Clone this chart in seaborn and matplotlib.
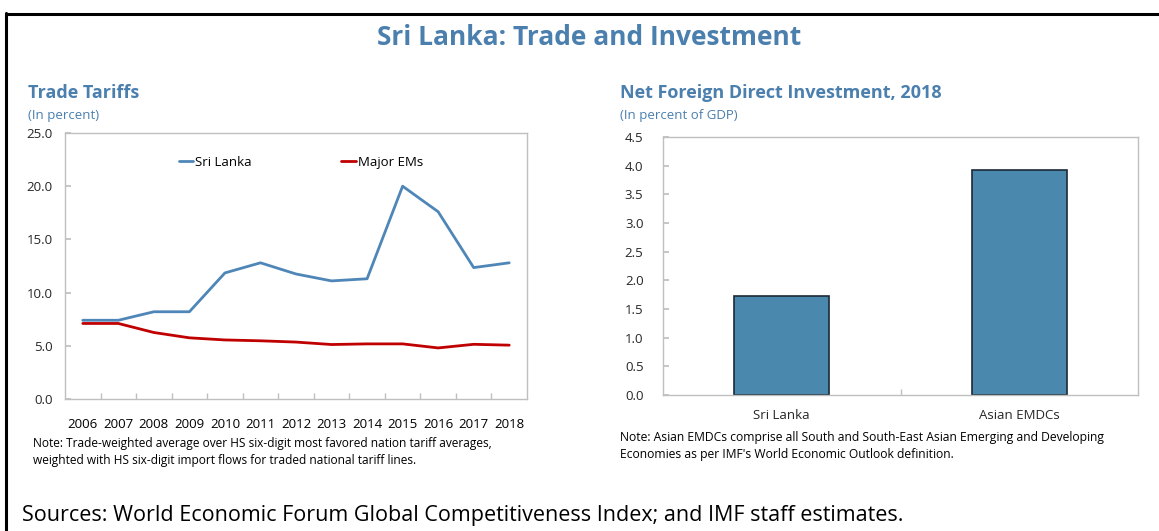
import matplotlib
matplotlib.use("Agg")
import matplotlib.pyplot as plt
import matplotlib.lines as mlines
from matplotlib.ticker import FixedLocator, MultipleLocator, FormatStrFormatter
import seaborn as sns
import pandas as pd

years = ["2006", "2007", "2008", "2009", "2010", "2011", "2012",
         "2013", "2014", "2015", "2016", "2017", "2018"]
sri_lanka = [7.4, 7.4, 8.2, 8.2, 11.85, 12.8, 11.75, 11.1, 11.3, 20.0, 17.6, 12.35, 12.8]
major_ems = [7.1, 7.1, 6.25, 5.75, 5.55, 5.47, 5.35, 5.12, 5.18, 5.18, 4.8, 5.14, 5.06]

fdi_categories = ["Sri Lanka", "Asian EMDCs"]
fdi_values = [1.73, 3.93]

TITLE_BLUE = "#4a7fae"
LINE_BLUE = "#4f86b8"
RED = "#c00000"
BAR = "#4a89ad"
SPINE = "#bfbfbf"
FONT = ["Open Sans", "DejaVu Sans"]

sns.set_theme(style="white")
plt.rcParams["font.family"] = FONT

fig = plt.figure(figsize=(11.59, 5.31), dpi=100)

# Frame (top and left border)
fig.add_artist(mlines.Line2D([6 / 1159, 6 / 1159], [0, 1 - 13 / 531], color="black", lw=2.2,
                             transform=fig.transFigure))
fig.add_artist(mlines.Line2D([6 / 1159, 1], [1 - 14 / 531, 1 - 14 / 531], color="black", lw=2.2,
                             transform=fig.transFigure))

fig.text(589 / 1159, 1 - 37 / 531, "Sri Lanka: Trade and Investment", ha="center", va="center",
         fontsize=19, fontweight="bold", color=TITLE_BLUE)

# ---------- Left: Trade tariffs ----------
ax1 = fig.add_axes([65 / 1159, 1 - 399 / 531, 462 / 1159, 266 / 531])
df = pd.DataFrame({
    "Year": years * 2,
    "Value": sri_lanka + major_ems,
    "Series": ["Sri Lanka"] * len(years) + ["Major EMs"] * len(years),
})
sns.lineplot(data=df, x="Year", y="Value", hue="Series",
             palette={"Sri Lanka": LINE_BLUE, "Major EMs": RED},
             linewidth=2, ax=ax1, sort=False)
ax1.set_xlim(-0.5, len(years) - 0.5)
ax1.set_ylim(0, 25)
ax1.yaxis.set_major_locator(MultipleLocator(5))
ax1.yaxis.set_major_formatter(FormatStrFormatter("%.1f"))
ax1.set_xlabel("")
ax1.set_ylabel("")
ax1.xaxis.set_minor_locator(FixedLocator([i + 0.5 for i in range(len(years) - 1)]))
ax1.tick_params(axis="x", which="major", length=0, pad=14, labelsize=9.5, colors="black")
ax1.tick_params(axis="x", which="minor", direction="in", length=4, color=SPINE, bottom=True)
ax1.tick_params(axis="y", which="major", direction="in", length=4, color=SPINE, left=True,
                pad=9, labelsize=9.5)
for s in ax1.spines.values():
    s.set_color(SPINE)
    s.set_linewidth(1)
leg = ax1.legend(loc="upper left", bbox_to_anchor=(0.22, 0.96), ncol=2, frameon=False,
                 handlelength=1.1, handletextpad=0.15, columnspacing=6.8, fontsize=9.5)
for t in leg.get_texts():
    t.set_color("black")

fig.text(28 / 1159, 1 - 93 / 531, "Trade Tariffs", ha="left", va="center",
         fontsize=13, fontweight="bold", color=TITLE_BLUE)
fig.text(28 / 1159, 1 - 115 / 531, "(In percent)", ha="left", va="center",
         fontsize=9.5, color=TITLE_BLUE)
fig.text(33 / 1159, 1 - 452 / 531,
         "Note: Trade-weighted average over HS six-digit most favored nation tariff averages,\n"
         "weighted with HS six-digit import flows for traded national tariff lines.",
         ha="left", va="center", fontsize=8.6, linespacing=1.35, color="black")

# ---------- Right: FDI ----------
ax2 = fig.add_axes([663 / 1159, 1 - 395 / 531, 475 / 1159, 258 / 531])
fdf = pd.DataFrame({"Group": fdi_categories, "FDI": fdi_values})
sns.barplot(data=fdf, x="Group", y="FDI", color=BAR, saturation=1, width=0.4,
            edgecolor="#1c2a36", linewidth=1.2, ax=ax2)
ax2.set_xlim(-0.5, 1.5)
ax2.set_ylim(0, 4.5)
ax2.yaxis.set_major_locator(MultipleLocator(0.5))
ax2.yaxis.set_major_formatter(FormatStrFormatter("%.1f"))
ax2.set_xlabel("")
ax2.set_ylabel("")
ax2.xaxis.set_minor_locator(FixedLocator([0.5]))
ax2.tick_params(axis="x", which="major", length=0, pad=10, labelsize=9.5)
ax2.tick_params(axis="x", which="minor", direction="in", length=4, color=SPINE, bottom=True)
ax2.tick_params(axis="y", which="major", direction="in", length=4, color=SPINE, left=True,
                pad=14, labelsize=9.5)
for s in ax2.spines.values():
    s.set_color(SPINE)
    s.set_linewidth(1)

fig.text(620 / 1159, 1 - 93 / 531, "Net Foreign Direct Investment, 2018", ha="left", va="center",
         fontsize=13, fontweight="bold", color=TITLE_BLUE)
fig.text(620 / 1159, 1 - 115 / 531, "(In percent of GDP)", ha="left", va="center",
         fontsize=9.5, color=TITLE_BLUE)
fig.text(620 / 1159, 1 - 446 / 531,
         "Note: Asian EMDCs comprise all South and South-East Asian Emerging and Developing\n"
         "Economies as per IMF's World Economic Outlook definition.",
         ha="left", va="center", fontsize=8.7, linespacing=1.35, color="black")

fig.text(22 / 1159, 1 - 515 / 531,
         "Sources: World Economic Forum Global Competitiveness Index; and IMF staff estimates.",
         ha="left", va="center", fontsize=15.5, color="black")

fig.savefig("out.png", dpi=100)
